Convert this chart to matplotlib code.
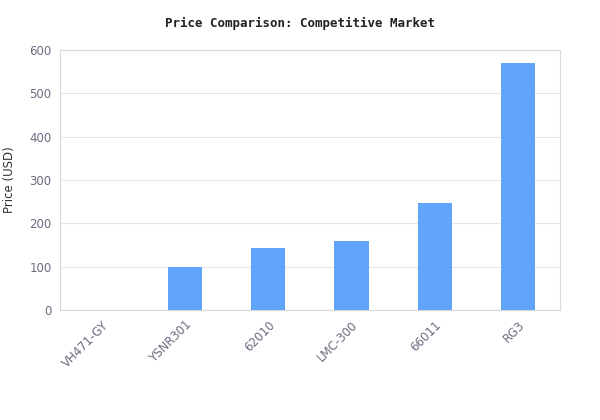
import matplotlib
matplotlib.use("Agg")
import matplotlib.pyplot as plt

models = ["VH471-GY", "YSNR301", "62010", "LMC-300", "66011", "RG3"]
prices = [0, 100, 143, 160, 247, 570]
yticks = [0, 100, 200, 300, 400, 500, 600]

fig = plt.figure(figsize=(6, 4.2), dpi=100)
ax = fig.add_axes([0.1, 0.262, 0.833, 0.619])
x = range(len(models))
ax.bar(x, prices, width=0.41, color="#60a5fa", zorder=3)
ax.set_xlim(-0.5, len(models) - 0.5)
ax.set_ylim(0, 600)
ax.set_yticks(yticks)
ax.set_xticks(list(x))
ax.set_xticklabels(models, rotation=45, ha="right", rotation_mode="anchor")
ax.grid(axis="y", color="#e5e5e5", lw=0.8, zorder=0)
for s in ax.spines.values():
    s.set_color("#d9d9d9")
ax.tick_params(colors="#6b6b80", labelsize=8.5, length=0, pad=6)
ax.set_ylabel("Price (USD)", fontsize=8.5, color="#333333", labelpad=10)
fig.suptitle("Price Comparison: Competitive Market", y=0.96, fontsize=9,
             fontweight="bold", family="DejaVu Sans Mono", color="#222222")
fig.savefig("out.png", dpi=100)
